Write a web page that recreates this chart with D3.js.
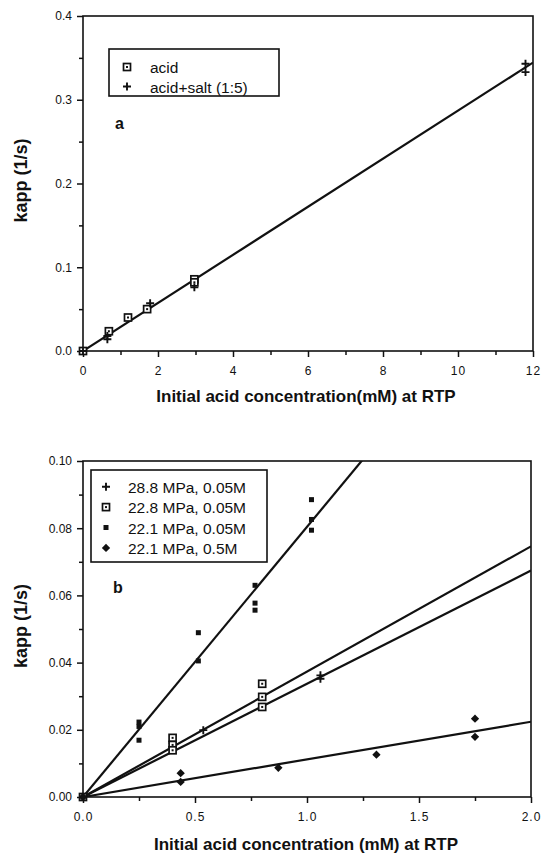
<!DOCTYPE html>
<meta charset="utf-8">
<style>
body { margin: 0; background: #fff; }
text { font-family: "Liberation Sans", Arial, sans-serif; fill: #111; }
.tick text { font-size: 12px; }
.xax .tick text { letter-spacing: 1px; }
.title { font-size: 17px; font-weight: bold; }
</style>
<body>
<script src="https://d3js.org/d3.v7.min.js"></script>
<script>

// ---- panel a data ----
var acidX = [0, 0.69, 1.2, 1.71, 2.97, 2.97];
var acidY = [0, 0.0236, 0.040, 0.050, 0.0856, 0.082];
var saltX = [0, 0.65, 0.65, 1.79, 2.97, 11.8, 11.8];
var saltY = [0, 0.014, 0.018, 0.057, 0.076, 0.343, 0.333];
var slopeA = 0.0287;
var xTicksA = [0, 2, 4, 6, 8, 10, 12];
var yTicksA = [0, 0.1, 0.2, 0.3, 0.4];

// ---- panel b data ----
var legendB = ["28.8 MPa, 0.05M", "22.8 MPa, 0.05M", "22.1 MPa, 0.05M", "22.1 MPa, 0.5M"];
var p288X = [0, 0.40, 0.40, 0.537, 1.06, 1.06];
var p288Y = [0, 0.015, 0.016, 0.0199, 0.0362, 0.0352];
var p228X = [0, 0.40, 0.40, 0.40, 0.80, 0.80, 0.80];
var p228Y = [0, 0.0176, 0.0155, 0.0139, 0.0337, 0.0298, 0.0268];
var p221X = [0, 0.25, 0.25, 0.25, 0.515, 0.515, 0.768, 0.768, 0.768, 1.02, 1.02, 1.02];
var p221Y = [0, 0.0223, 0.021, 0.0169, 0.0489, 0.0405, 0.063, 0.0577, 0.0556, 0.0885, 0.0826, 0.0794];
var p221sX = [0, 0.436, 0.436, 0.872, 1.31, 1.75, 1.75];
var p221sY = [0, 0.0071, 0.0045, 0.0087, 0.0126, 0.0233, 0.0179];
var slopesB = [0.0337, 0.0373, 0.0804, 0.0112];
var xTicksB = [0, 0.5, 1.0, 1.5, 2.0];
var yTicksB = [0, 0.02, 0.04, 0.06, 0.08, 0.10];

var svg = d3.select("body").append("svg")
    .attr("width", 542)
    .attr("height", 855);

function zip(xs, ys) { return xs.map((x, i) => [x, ys[i]]); }

function symbol(g, type, cx, cy) {
  if (type === "square") {
    g.append("rect").attr("x", cx - 3.5).attr("y", cy - 3.5).attr("width", 7).attr("height", 7)
      .attr("fill", "#fff").attr("stroke", "#111").attr("stroke-width", 1.7);
    g.append("rect").attr("x", cx - 1).attr("y", cy - 1).attr("width", 2).attr("height", 2).attr("fill", "#111");
  } else if (type === "plus") {
    g.append("path").attr("d", `M${cx-4},${cy}H${cx+4}M${cx},${cy-4}V${cy+4}`)
      .attr("stroke", "#111").attr("stroke-width", 1.9);
  } else if (type === "dot") {
    g.append("rect").attr("x", cx - 2.5).attr("y", cy - 2.5).attr("width", 5).attr("height", 5).attr("fill", "#111");
  } else if (type === "diamond") {
    g.append("path").attr("d", d3.symbol(d3.symbolDiamond2, 44)()).attr("transform", `translate(${cx},${cy})`)
      .attr("fill", "#111");
  }
}

function panel(cfg) {
  var x = d3.scaleLinear().domain(cfg.xDomain).range([cfg.left, cfg.right]);
  var y = d3.scaleLinear().domain(cfg.yDomain).range([cfg.bottom, cfg.top]);
  var g = svg.append("g");

  // minor ticks
  g.append("g").attr("transform", `translate(0,${cfg.bottom})`)
    .call(d3.axisBottom(x).tickValues(cfg.xMinor).tickSize(4).tickFormat(""))
    .call(a => a.select(".domain").remove());
  g.append("g").attr("transform", `translate(${cfg.left},0)`)
    .call(d3.axisLeft(y).tickValues(cfg.yMinor).tickSize(4).tickFormat(""))
    .call(a => a.select(".domain").remove());

  g.append("g").attr("class", "xax").attr("transform", `translate(0,${cfg.bottom})`)
    .call(d3.axisBottom(x).tickValues(cfg.xTicks).tickSize(6).tickPadding(9).tickFormat(cfg.xFormat))
    .call(a => a.select(".domain").remove());
  g.append("g").attr("transform", `translate(${cfg.left},0)`)
    .call(d3.axisLeft(y).tickValues(cfg.yTicks).tickSize(6).tickPadding(5).tickFormat(cfg.yFormat))
    .call(a => a.select(".domain").remove());
  g.selectAll(".tick line").attr("stroke", "#111").attr("stroke-width", 1.5);

  g.append("rect").attr("x", cfg.left).attr("y", cfg.top)
    .attr("width", cfg.right - cfg.left).attr("height", cfg.bottom - cfg.top)
    .attr("fill", "none").attr("stroke", "#111").attr("stroke-width", 1.6);

  // regression lines, clipped to frame
  var clipId = "clip" + cfg.name;
  svg.append("clipPath").attr("id", clipId).append("rect")
    .attr("x", cfg.left).attr("y", cfg.top).attr("width", cfg.right - cfg.left).attr("height", cfg.bottom - cfg.top);
  var line = d3.line().x(d => x(d[0])).y(d => y(d[1]));
  cfg.slopes.forEach(function (s) {
    g.append("path").attr("clip-path", `url(#${clipId})`)
      .attr("d", line([[0, 0], [cfg.xDomain[1], s * cfg.xDomain[1]]]))
      .attr("fill", "none").attr("stroke", "#111").attr("stroke-width", 2.2);
  });

  cfg.series.forEach(function (se) {
    zip(se.xs, se.ys).forEach(d => symbol(g, se.type, x(d[0]), y(d[1])));
  });

  // legend
  var lg = cfg.legend;
  g.append("rect").attr("x", lg.x).attr("y", lg.y).attr("width", lg.w).attr("height", lg.h)
    .attr("fill", "#fff").attr("stroke", "#111").attr("stroke-width", 1.6);
  cfg.series.forEach(function (se, i) {
    var yy = lg.y + lg.first + i * lg.step;
    symbol(g, se.type, lg.x + lg.sx, yy);
    g.append("text").attr("x", lg.x + lg.tx).attr("y", yy + 6).attr("font-size", 15.5).text(se.label);
  });
  g.append("text").attr("x", cfg.tag[0]).attr("y", cfg.tag[1]).attr("font-size", 16)
    .attr("font-weight", "bold").text(cfg.name);

  g.append("text").attr("class", "title").attr("x", 306).attr("y", cfg.bottom + cfg.titleGap)
    .attr("text-anchor", "middle").text(cfg.xTitle);
  g.append("text").attr("class", "title")
    .attr("transform", `translate(27,${(cfg.top + cfg.bottom) / 2 - 3}) rotate(-90)`)
    .attr("text-anchor", "middle").style("font-size", "18px").text("kapp (1/s)");
}

panel({
  name: "a", left: 83, right: 533, top: 16, bottom: 351,
  xDomain: [0, 12], yDomain: [0, 0.4],
  xTicks: xTicksA, yTicks: yTicksA,
  xMinor: d3.range(1, 12, 2), yMinor: [0.05, 0.15, 0.25, 0.35],
  xFormat: d3.format("d"), yFormat: d3.format(".1f"),
  slopes: [slopeA],
  series: [
    {type: "square", label: "acid", xs: acidX, ys: acidY},
    {type: "plus", label: "acid+salt (1:5)", xs: saltX, ys: saltY}
  ],
  legend: {x: 109, y: 49, w: 170, h: 47, first: 18, step: 19.5, sx: 18, tx: 41},
  tag: [115, 129],
  titleGap: 51,
  xTitle: "Initial acid concentration(mM) at RTP"
});

panel({
  name: "b", left: 83, right: 531, top: 461, bottom: 797,
  xDomain: [0, 2], yDomain: [0, 0.10],
  xTicks: xTicksB, yTicks: yTicksB,
  xMinor: [0.25, 0.75, 1.25, 1.75], yMinor: [0.01, 0.03, 0.05, 0.07, 0.09],
  xFormat: d3.format(".1f"), yFormat: d3.format(".2f"),
  slopes: slopesB,
  series: [
    {type: "plus", label: legendB[0], xs: p288X, ys: p288Y},
    {type: "square", label: legendB[1], xs: p228X, ys: p228Y},
    {type: "dot", label: legendB[2], xs: p221X, ys: p221Y},
    {type: "diamond", label: legendB[3], xs: p221sX, ys: p221sY}
  ],
  legend: {x: 91, y: 470, w: 176, h: 92, first: 16.7, step: 20.4, sx: 15, tx: 37},
  tag: [113, 593],
  titleGap: 53,
  xTitle: "Initial acid concentration (mM) at RTP"
});

</script>
</body>
